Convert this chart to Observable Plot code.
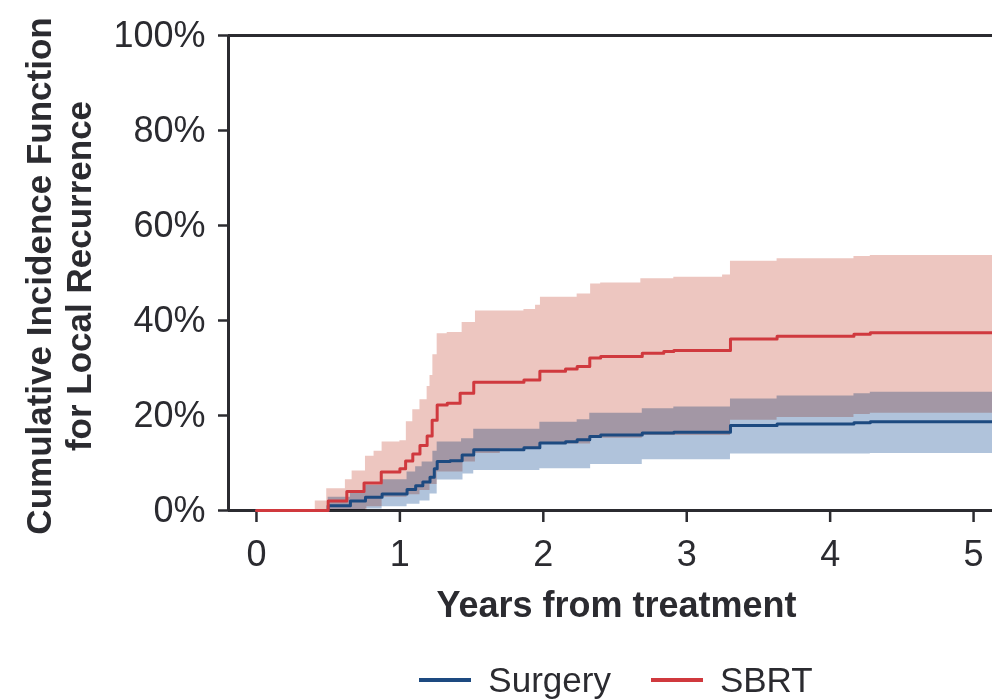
<!DOCTYPE html>
<html>
<head>
<meta charset="utf-8">
<script src="https://cdn.jsdelivr.net/npm/d3@7"></script>
<script src="https://cdn.jsdelivr.net/npm/@observablehq/plot@0.6"></script>
<style>
  body { margin: 0; background: #fff; font-family: "Liberation Sans", Arial, sans-serif; }
  #legend { width: 992px; height: 46px; display: flex; justify-content: center; align-items: center;
            padding-left: 240px; box-sizing: border-box; font-size: 35px; color: #2b2b30; line-height: 46px; }
  .item { display: flex; align-items: center; margin: 0 20px; }
  .sw { width: 52px; height: 3.5px; margin-right: 17px; }
</style>
</head>
<body>
<div id="chart"></div>
<div id="legend"></div>
<script>
// ---- Data ----
const seriesNames = ["Surgery", "SBRT"];
const seriesColors = ["#1d4a80", "#d0393e"];
const bandColors = ["#b0c3db", "#edc6c0"];

// SBRT cumulative incidence (%)
const sbrtTime = [0, 0.50, 0.63, 0.75, 0.87, 1.00, 1.04, 1.09, 1.14, 1.19, 1.225, 1.26, 1.33, 1.42, 1.515, 1.865, 1.976, 2.155, 2.236, 2.324, 2.40, 2.69, 2.84, 2.91, 3.305, 3.63, 4.166, 4.28, 5.2];
const sbrtCIF  = [0, 2.0, 4.0, 5.8, 8.1, 8.8, 10.4, 11.9, 13.7, 15.7, 19.0, 22.2, 22.6, 24.7, 27.0, 27.5, 29.3, 29.8, 30.3, 32.1, 32.4, 33.1, 33.5, 33.7, 36.1, 36.7, 37.1, 37.4, 37.4];
// SBRT confidence band (%)
const sbrtBandTime = [0.41, 0.49, 0.62, 0.667, 0.76, 0.77, 0.82, 0.876, 1.00, 1.045, 1.05, 1.09, 1.14, 1.19, 1.21, 1.23, 1.26, 1.33, 1.434, 1.44, 1.527, 1.70, 1.865, 1.946, 1.98, 2.236, 2.33, 2.40, 2.68, 2.69, 2.91, 3.25, 3.305, 3.63, 4.166, 4.28, 5.2];
const sbrtLower    = [0, 0, 0, 0, 0, 0.8, 0.8, 2.8, 2.8, 2.8, 3.3, 3.3, 4.2, 4.2, 5.5, 5.5, 8.1, 8.1, 8.1, 10.2, 12.0, 13.0, 13.0, 13.0, 14.0, 14.0, 15.2, 15.2, 15.2, 15.8, 15.8, 15.8, 19.0, 19.6, 20.2, 20.5, 20.5];
const sbrtUpper    = [2.0, 4.6, 6.5, 8.3, 11.4, 11.4, 12.5, 14.4, 14.7, 18.7, 18.7, 21.2, 23.3, 26.1, 28.4, 32.8, 37.2, 37.5, 39.6, 39.6, 42.0, 42.0, 42.3, 43.2, 44.9, 45.6, 47.7, 47.9, 48.8, 48.8, 49.1, 49.6, 52.5, 53.0, 53.5, 53.7, 53.7];

// Surgery cumulative incidence (%)
const surgTime = [0, 0.50, 0.655, 0.76, 0.876, 1.05, 1.11, 1.16, 1.21, 1.24, 1.26, 1.35, 1.434, 1.515, 1.865, 1.976, 2.155, 2.236, 2.324, 2.40, 2.69, 2.91, 3.305, 3.63, 4.166, 4.28, 5.2];
const surgCIF  = [0, 1.0, 2.0, 2.8, 3.5, 4.4, 5.2, 6.0, 7.0, 8.8, 10.3, 10.5, 11.7, 12.8, 13.2, 14.2, 14.5, 14.9, 15.6, 15.9, 16.3, 16.5, 17.9, 18.2, 18.5, 18.7, 18.7];
// Surgery confidence band (%)
const surgBandTime = [0.50, 0.655, 0.76, 0.876, 1.05, 1.11, 1.14, 1.155, 1.21, 1.23, 1.26, 1.43, 1.44, 1.515, 1.976, 2.236, 2.324, 2.33, 2.69, 2.91, 3.305, 3.63, 4.166, 4.28, 5.2];
const surgLower    = [0, 0, 0.3, 0.8, 1.3, 1.3, 2.0, 2.0, 3.5, 3.5, 6.4, 6.4, 7.7, 8.4, 8.8, 8.8, 8.8, 9.7, 10.7, 10.7, 11.9, 11.9, 11.9, 12.0, 12.0];
const surgUpper    = [2.8, 4.2, 5.3, 6.5, 8.1, 9.2, 9.2, 10.2, 10.2, 12.5, 14.4, 15.1, 15.1, 17.1, 18.6, 19.1, 20.5, 20.5, 21.4, 21.8, 23.5, 24.1, 24.6, 24.9, 24.9];

const xTicks = [0, 1, 2, 3, 4, 5];
const yTicks = [0, 20, 40, 60, 80, 100];
const xTitle = "Years from treatment";
const yTitle = "Cumulative Incidence Function\nfor Local Recurrence";

// ---- Build tables ----
const sbrtLine = sbrtTime.map((t, i) => ({t, v: sbrtCIF[i]}));
const surgLine = surgTime.map((t, i) => ({t, v: surgCIF[i]}));
const sbrtBand = sbrtBandTime.map((t, i) => ({t, lo: sbrtLower[i], hi: sbrtUpper[i]}));
const surgBand = surgBandTime.map((t, i) => ({t, lo: surgLower[i], hi: surgUpper[i]}));

const ink = "#2b2b30";
const xMin = -0.195;

const chart = Plot.plot({
  width: 992,
  height: 657,
  marginLeft: 228,
  marginRight: 0,
  marginTop: 35,
  marginBottom: 147,
  style: { fontFamily: "'Liberation Sans', Arial, sans-serif", fontSize: "36px", color: ink, background: "#fff" },
  x: { domain: [xMin, 5.132] },
  y: { domain: [0, 100] },
  marks: [
    Plot.ruleY([0, 100], { stroke: ink, strokeWidth: 3 }),
    Plot.ruleX([xMin], { stroke: ink, strokeWidth: 3 }),
    Plot.axisX({ ticks: xTicks, tickSize: 12, tickPadding: 18, tickFormat: d => String(d), label: null, strokeWidth: 2.5, stroke: ink, fill: ink }),
    Plot.axisY({ ticks: yTicks, tickSize: 10, tickPadding: 13, tickFormat: d => d + "%", label: null, strokeWidth: 2.5, stroke: ink, fill: ink }),
    Plot.areaY(sbrtBand, { x: "t", y1: "lo", y2: "hi", curve: "step-after", fill: bandColors[1], mixBlendMode: "multiply" }),
    Plot.areaY(surgBand, { x: "t", y1: "lo", y2: "hi", curve: "step-after", fill: bandColors[0], mixBlendMode: "multiply" }),
    Plot.lineY(surgLine, { x: "t", y: "v", curve: "step-after", stroke: seriesColors[0], strokeWidth: 3 }),
    Plot.lineY(sbrtLine, { x: "t", y: "v", curve: "step-after", stroke: seriesColors[1], strokeWidth: 3 }),
    Plot.text([xTitle], { text: d => d, frameAnchor: "bottom", dy: 95, dx: 6, lineAnchor: "middle", textAnchor: "middle", fontSize: 36, fontWeight: "bold", fill: ink }),
    Plot.text([yTitle], { text: d => d, frameAnchor: "left", dx: -170, dy: 3, rotate: -90, lineAnchor: "middle", textAnchor: "middle", lineHeight: 1.14, fontSize: 35, fontWeight: "bold", fill: ink })
  ]
});
document.getElementById("chart").appendChild(chart);

const legend = document.getElementById("legend");
seriesNames.forEach((name, i) => {
  const item = document.createElement("div");
  item.className = "item";
  const sw = document.createElement("span");
  sw.className = "sw";
  sw.style.background = seriesColors[i];
  const label = document.createElement("span");
  label.textContent = name;
  item.appendChild(sw);
  item.appendChild(label);
  legend.appendChild(item);
});
</script>
</body>
</html>
